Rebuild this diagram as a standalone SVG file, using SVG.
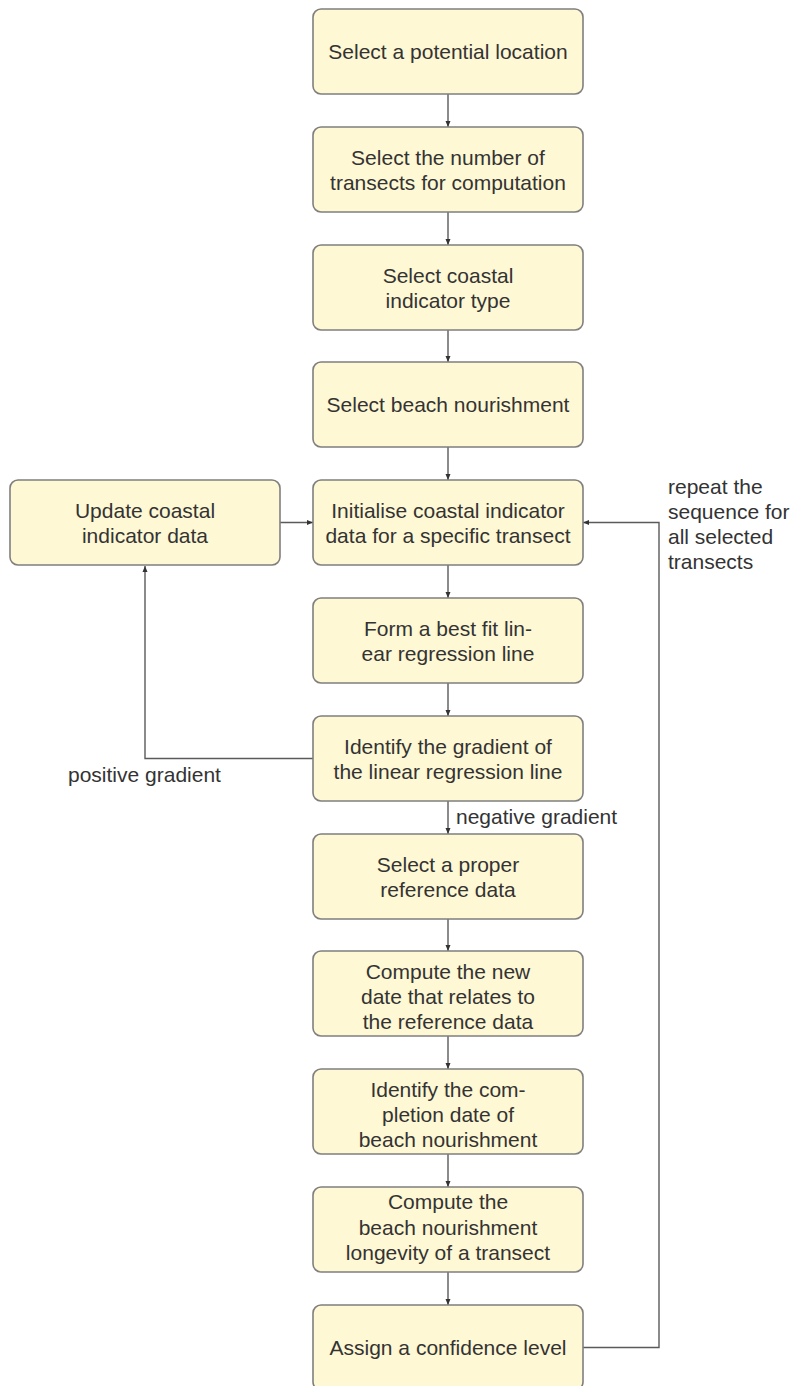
<svg xmlns="http://www.w3.org/2000/svg" width="793" height="1386" viewBox="0 0 793 1386">
<style>
.box{fill:#fff8d4;stroke:#7f7f7f;stroke-width:1.6}
.t{font-family:"Liberation Sans",Arial,sans-serif;font-size:21px;fill:#333;text-anchor:middle}
.l{font-family:"Liberation Sans",Arial,sans-serif;font-size:21px;fill:#333}
.c{fill:none;stroke:#5a5a5a;stroke-width:1.4}
</style>
<defs>
<marker id="ah" markerWidth="8" markerHeight="8" refX="7" refY="4" orient="auto" markerUnits="userSpaceOnUse">
<path d="M1,1.5 L7,4 L1,6.5 Z" fill="#333"/>
</marker>
</defs>
<rect width="793" height="1386" fill="#fff"/>
<g id="connectors">
<line class="c" x1="448" y1="94" x2="448" y2="127" marker-end="url(#ah)"/>
<line class="c" x1="448" y1="212" x2="448" y2="245" marker-end="url(#ah)"/>
<line class="c" x1="448" y1="330" x2="448" y2="362" marker-end="url(#ah)"/>
<line class="c" x1="448" y1="447" x2="448" y2="480" marker-end="url(#ah)"/>
<line class="c" x1="448" y1="565" x2="448" y2="598" marker-end="url(#ah)"/>
<line class="c" x1="448" y1="683" x2="448" y2="716" marker-end="url(#ah)"/>
<line class="c" x1="448" y1="801" x2="448" y2="834" marker-end="url(#ah)"/>
<line class="c" x1="448" y1="919" x2="448" y2="951" marker-end="url(#ah)"/>
<line class="c" x1="448" y1="1036" x2="448" y2="1069" marker-end="url(#ah)"/>
<line class="c" x1="448" y1="1154" x2="448" y2="1187" marker-end="url(#ah)"/>
<line class="c" x1="448" y1="1272" x2="448" y2="1305" marker-end="url(#ah)"/>
<line class="c" x1="280" y1="522.5" x2="313" y2="522.5" marker-end="url(#ah)"/>
<polyline class="c" points="313,758.5 145,758.5 145,566" marker-end="url(#ah)"/>
<polyline class="c" points="583,1347.5 659,1347.5 659,522.5 583,522.5" marker-end="url(#ah)"/>
<text class="l" x="68" y="782">positive gradient</text>
<text class="l" x="456" y="824">negative gradient</text>
<text class="l" x="668" y="494">repeat the</text>
<text class="l" x="668" y="519">sequence for</text>
<text class="l" x="668" y="544">all selected</text>
<text class="l" x="668" y="569">transects</text>
</g>
<g id="n1"><rect class="box" x="313" y="9" width="270" height="85" rx="8"/><text class="t" x="448" y="59">Select a potential location</text></g>
<g id="n2"><rect class="box" x="313" y="127" width="270" height="85" rx="8"/><text class="t" x="448" y="164.5">Select the number of</text><text class="t" x="448" y="189.5">transects for computation</text></g>
<g id="n3"><rect class="box" x="313" y="245" width="270" height="85" rx="8"/><text class="t" x="448" y="282.5">Select coastal</text><text class="t" x="448" y="307.5">indicator type</text></g>
<g id="n4"><rect class="box" x="313" y="362" width="270" height="85" rx="8"/><text class="t" x="448" y="412">Select beach nourishment</text></g>
<g id="n5"><rect class="box" x="313" y="480" width="270" height="85" rx="8"/><text class="t" x="448" y="517.5">Initialise coastal indicator</text><text class="t" x="448" y="542.5">data for a specific transect</text></g>
<g id="n5b"><rect class="box" x="10" y="480" width="270" height="85" rx="8"/><text class="t" x="145" y="517.5">Update coastal</text><text class="t" x="145" y="542.5">indicator data</text></g>
<g id="n6"><rect class="box" x="313" y="598" width="270" height="85" rx="8"/><text class="t" x="448" y="635.5">Form a best fit lin-</text><text class="t" x="448" y="660.5">ear regression line</text></g>
<g id="n7"><rect class="box" x="313" y="716" width="270" height="85" rx="8"/><text class="t" x="448" y="753.5">Identify the gradient of</text><text class="t" x="448" y="778.5">the linear regression line</text></g>
<g id="n8"><rect class="box" x="313" y="834" width="270" height="85" rx="8"/><text class="t" x="448" y="871.5">Select a proper</text><text class="t" x="448" y="896.5">reference data</text></g>
<g id="n9"><rect class="box" x="313" y="951" width="270" height="85" rx="8"/><text class="t" x="448" y="979">Compute the new</text><text class="t" x="448" y="1004">date that relates to</text><text class="t" x="448" y="1029">the reference data</text></g>
<g id="n10"><rect class="box" x="313" y="1069" width="270" height="85" rx="8"/><text class="t" x="448" y="1097">Identify the com-</text><text class="t" x="448" y="1122">pletion date of</text><text class="t" x="448" y="1147">beach nourishment</text></g>
<g id="n11"><rect class="box" x="313" y="1187" width="270" height="85" rx="8"/><text class="t" x="448" y="1209">Compute the</text><text class="t" x="448" y="1235">beach nourishment</text><text class="t" x="448" y="1260">longevity of a transect</text></g>
<g id="n12"><rect class="box" x="313" y="1305" width="270" height="85" rx="8"/><text class="t" x="448" y="1354.5">Assign a confidence level</text></g>
</svg>
